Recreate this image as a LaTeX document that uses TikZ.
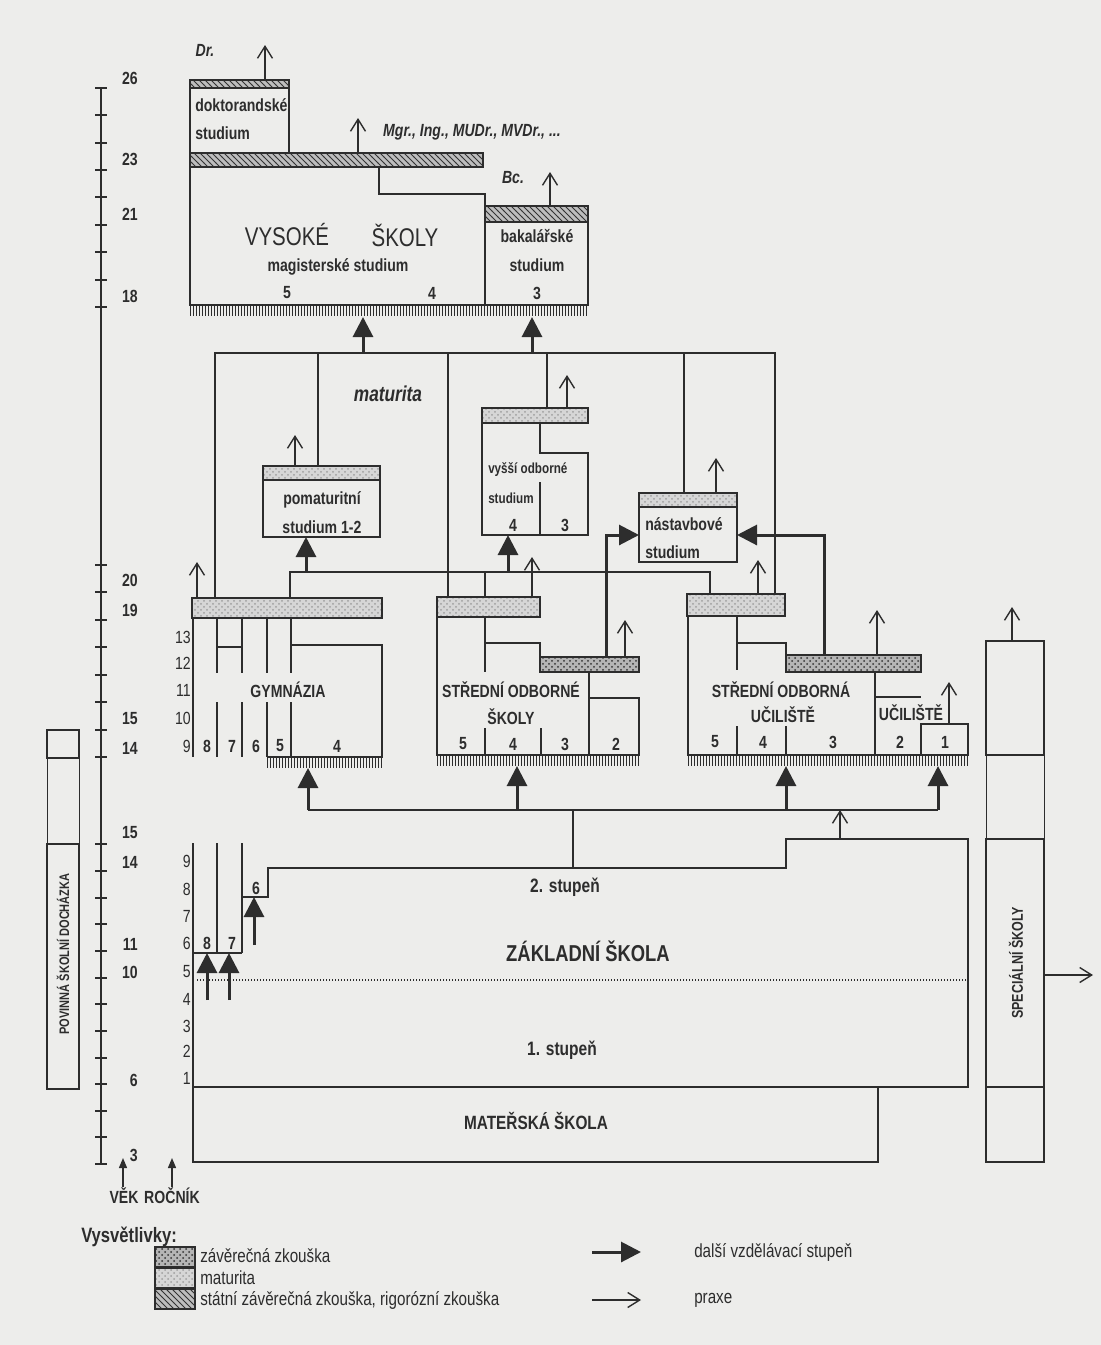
\documentclass[tikz,border=0pt]{standalone}
\usepackage{fontspec}
\setmainfont{Liberation Sans}[FakeStretch=0.8]
\usetikzlibrary{arrows.meta,patterns}
\definecolor{papir}{RGB}{237,237,235}
\definecolor{cara}{RGB}{45,45,45}

\begin{document}
\begin{tikzpicture}[
    x=0.5pt, y=-0.5pt, color=cara, line width=1.25pt,
    tenka/.style={line width=0.5pt},
    praxe/.style={line width=0.7pt, -{Straight Barb[length=6pt,width=7.5pt]}},
    dalsi/.style={line width=1.5pt, -{Triangle[length=10pt,width=10pt]}},
    sipka/.style={line width=0.7pt, -{Triangle[length=5pt,width=4pt]}},
    hreben/.style={line width=5pt, dash pattern=on 0.6pt off 0.9pt},
    tecky/.style={line width=0.9pt, dash pattern=on 0.6pt off 0.9pt},
    zav/.style={draw, preaction={fill=gray!58}, pattern=crosshatch dots, pattern color=black!80},
    mat/.style={draw, preaction={fill=gray!32}, pattern=crosshatch dots, pattern color=gray!75},
    szz/.style={draw, preaction={fill=gray!52}, pattern=north west lines, pattern color=black!80},
    txt/.style={inner sep=0pt, font=\bfseries\fontsize{8.8}{10}\selectfont},
    kurziva/.style={inner sep=0pt, font=\bfseries\itshape\fontsize{8.8}{10}\selectfont},
    velky/.style={inner sep=0pt, font=\fontsize{12.8}{14}\selectfont},
    rocnik/.style={inner sep=0pt, anchor=east, font=\fontsize{8.8}{10}\selectfont},
    vek/.style={txt, anchor=east},
    leg/.style={inner sep=0pt, anchor=west, font=\fontsize{9.5}{11}\selectfont}
]
    \fill[papir] (0,0) rectangle (1101,1345);
    \useasboundingbox (0,0) rectangle (1101,1345);

    % osa veku a rocniky
    \draw (101,88) -- (101,1164);
    \foreach \t in {88,115,143,170,197,225,252,280,307,565,592,620,647,675,702,730,757,
                    844,871,898,924,951,978,1004,1031,1058,1084,1111,1137,1164}
        \draw (95,\t) -- (107,\t);
    \foreach \v/\y in {26/78,23/159,21/214,18/296,20/580,19/610,15/719,14/748,
                       15/833,14/862,11/944,10/972,6/1080,3/1155}
        \node[vek] (v-\y) at (139,\y) {\v};
    \foreach \r/\y in {13/637,12/663,11/690,10/718,9/746,9/861,8/889,7/916,6/943,
                       5/972,4/999,3/1026,2/1051,1/1078}
        \node[rocnik] (r-\y) at (192,\y) {\r};
    \node[txt] (vekpopis) at (124,1196) {VĚK};
    \node[txt] (rocnikpopis) at (172,1196) {ROČNÍK};
    \draw[sipka] (123,1187) -- (123,1158);
    \draw[sipka] (172,1187) -- (172,1158);

    % povinna skolni dochazka
    \draw (47,730) rectangle (79,758);
    \draw[tenka] (47,758) -- (47,844) (79,758) -- (79,844);
    \draw (47,844) rectangle (79,1089);
    \node[inner sep=0pt, rotate=90, font=\bfseries\fontsize{6.9}{8}\selectfont] (povinna) at (63,954) {POVINNÁ ŠKOLNÍ DOCHÁZKA};

    % vysoke skoly
    \draw[szz] (190,80) rectangle (289,88);
    \draw (190,88) -- (190,153) (289,88) -- (289,153);
    \draw[szz] (190,153) rectangle (483,167);
    \draw (190,167) -- (190,305) -- (588,305) -- (588,222);
    \draw (379,167) -- (379,194) -- (485,194) -- (485,305);
    \draw[szz] (485,206) rectangle (588,222);
    \draw[hreben] (190,310.5) -- (588,310.5);
    \draw[praxe] (265,80) -- (265,45);
    \draw[praxe] (358,153) -- (358,118);
    \draw[praxe] (550,206) -- (550,172);
    \node[kurziva] (dr) at (205,50) {Dr.};
    \node[txt, anchor=west] (dokt) at (194,105) {doktorandské};
    \node[txt, anchor=west] (dokt2) at (194,133) {studium};
    \node[kurziva] (mgr) at (472,132) {Mgr., Ing., MUDr., MVDr., ...};
    \node[kurziva] (bc) at (513,178) {Bc.};
    \node[velky] (vysoke) at (287,235) {VYSOKÉ};
    \node[velky] (skoly) at (405,235) {ŠKOLY};
    \node[txt] (mag) at (338,267) {magisterské studium};
    \node[txt] (bak) at (537,236) {bakalářské};
    \node[txt] (bak2) at (537,265) {studium};
    \node[txt] (vs5) at (287,293) {5};
    \node[txt] (vs4) at (432,293) {4};
    \node[txt] (vs3) at (537,293) {3};
    \node[inner sep=0pt, font=\bfseries\itshape\fontsize{10.8}{12}\selectfont] (maturita) at (388,394) {maturita};

    % sberne cary
    \draw (215,598) -- (215,353) -- (775,353) -- (775,594);
    \draw (318,353) -- (318,466);
    \draw (448,353) -- (448,597);
    \draw (547,353) -- (547,408);
    \draw (684,353) -- (684,493);
    \draw[dalsi] (363,353) -- (363,317);
    \draw[dalsi] (532,353) -- (532,317);
    \draw (290,598) -- (290,572) -- (710,572) -- (710,594);
    \draw (485,572) -- (485,597);
    \draw[dalsi] (306,572) -- (306,537);
    \draw[dalsi] (508,572) -- (508,535);

    % pomaturitni studium
    \draw[mat] (263,466) rectangle (380,480);
    \draw (263,480) rectangle (380,537);
    \draw[praxe] (295,466) -- (295,435);
    \node[txt] (pomat) at (322,500) {pomaturitní};
    \node[txt] (pomat2) at (322,527) {studium 1-2};

    % vyssi odborne studium
    \draw[mat] (482,408) rectangle (588,423);
    \draw (482,423) -- (482,535) -- (588,535) -- (588,453) -- (540,453) -- (540,423);
    \draw (540,482) -- (540,535);
    \draw[praxe] (567,408) -- (567,375);
    \node[inner sep=0pt, anchor=west, font=\bfseries\fontsize{7.3}{8}\selectfont] (vos) at (487,470) {vyšší odborné};
    \node[inner sep=0pt, anchor=west, font=\bfseries\fontsize{7.3}{8}\selectfont] (vos2) at (487,498) {studium};
    \node[txt] (vos4) at (513,525) {4};
    \node[txt] (vos3) at (565,525) {3};

    % nastavbove studium
    \draw[mat] (639,493) rectangle (737,507);
    \draw (639,507) rectangle (737,562);
    \draw[praxe] (716,493) -- (716,458);
    \draw[dalsi] (606,657) -- (606,535) -- (639,535);
    \draw[dalsi] (824,655) -- (824,535) -- (737,535);
    \node[txt, anchor=west] (nast) at (644,524) {nástavbové};
    \node[txt, anchor=west] (nast2) at (644,552) {studium};

    % gymnazia
    \draw[mat] (192,598) rectangle (382,618);
    \draw (193,618) -- (193,757);
    \foreach \gx in {217,242,267,291}
        \draw (\gx,618) -- (\gx,673) (\gx,702) -- (\gx,757);
    \draw (217,647) -- (242,647);
    \draw (291,645) -- (382,645) -- (382,757) -- (267,757);
    \draw[hreben] (267,762.5) -- (382,762.5);
    \draw[praxe] (197,598) -- (197,562);
    \node[txt] (gym) at (288,690) {GYMNÁZIA};
    \foreach \c/\gx in {8/207,7/232,6/256,5/280,4/337}
        \node[txt] (g-\c) at (\gx,746) {\c};

    % stredni odborne skoly
    \draw[mat] (437,597) rectangle (540,617);
    \draw (437,617) -- (437,755) -- (639,755) -- (639,698) -- (589,698);
    \draw (485,617) -- (485,672) (485,728) -- (485,755);
    \draw (485,643) -- (540,643) -- (540,657);
    \draw[zav] (540,657) rectangle (639,672);
    \draw (589,672) -- (589,755);
    \draw (541,728) -- (541,755);
    \draw[hreben] (437,760.5) -- (639,760.5);
    \draw[praxe] (532,597) -- (532,557);
    \draw[praxe] (625,657) -- (625,620);
    \node[txt] (sos) at (511,690) {STŘEDNÍ ODBORNÉ};
    \node[txt] (sos2) at (511,717) {ŠKOLY};
    \foreach \c/\gx in {5/463,4/513,3/565,2/616}
        \node[txt] (s-\c) at (\gx,744) {\c};

    % stredni odborna uciliste
    \draw[mat] (687,594) rectangle (785,616);
    \draw (688,616) -- (688,755) -- (968,755) -- (968,724) -- (921,724) -- (921,755);
    \draw (737,616) -- (737,670) (737,726) -- (737,755);
    \draw (737,643) -- (786,643) -- (786,655);
    \draw[zav] (786,655) rectangle (921,672);
    \draw (786,726) -- (786,755);
    \draw (875,672) -- (875,755);
    \draw (875,697) -- (921,697);
    \draw[hreben] (688,760.5) -- (968,760.5);
    \draw[praxe] (758,594) -- (758,560);
    \draw[praxe] (877,655) -- (877,610);
    \draw[praxe] (949,724) -- (949,682);
    \node[txt] (sou) at (781,690) {STŘEDNÍ ODBORNÁ};
    \node[txt] (sou2) at (783,715) {UČILIŠTĚ};
    \node[txt] (ou) at (911,713) {UČILIŠTĚ};
    \foreach \c/\gx in {5/715,4/763,3/833,2/900,1/945}
        \node[txt] (u-\c) at (\gx,742) {\c};

    % zakladni a materska skola
    \draw (193,843) -- (193,1162) -- (878,1162) -- (878,1087);
    \draw (217,843) -- (217,953) (242,843) -- (242,953);
    \draw (193,953) -- (242,953);
    \draw (242,897) -- (268,897) -- (268,868) -- (786,868) -- (786,839) -- (968,839) -- (968,1087) -- (193,1087);
    \draw[tecky] (197,980) -- (966,980);
    \draw (308,810) -- (938,810);
    \draw (573,810) -- (573,868);
    \draw[dalsi] (308,810) -- (308,768);
    \draw[dalsi] (517,810) -- (517,766);
    \draw[dalsi] (786,810) -- (786,766);
    \draw[dalsi] (938,810) -- (938,766);
    \draw[praxe] (840,839) -- (840,810);
    \draw[dalsi] (207,1000) -- (207,953);
    \draw[dalsi] (229,1000) -- (229,953);
    \draw[dalsi] (254,945) -- (254,897);
    \node[txt] (z8) at (207,943) {8};
    \node[txt] (z7) at (232,943) {7};
    \node[txt] (z6) at (256,888) {6};
    \node[inner sep=0pt, font=\bfseries\fontsize{9.7}{11}\selectfont] (st2) at (565,887) {2. stupeň};
    \node[inner sep=0pt, font=\bfseries\fontsize{11.5}{13}\selectfont] (zs) at (588,951) {ZÁKLADNÍ ŠKOLA};
    \node[inner sep=0pt, font=\bfseries\fontsize{9.7}{11}\selectfont] (st1) at (562,1050) {1. stupeň};
    \node[inner sep=0pt, font=\bfseries\fontsize{9.6}{11}\selectfont] (ms) at (536,1121) {MATEŘSKÁ ŠKOLA};

    % specialni skoly
    \draw (986,641) rectangle (1044,755);
    \draw[tenka] (986,755) -- (986,839) (1044,755) -- (1044,839);
    \draw (986,839) rectangle (1044,1162);
    \draw (986,1087) -- (1044,1087);
    \draw[praxe] (1012,641) -- (1012,607);
    \draw[praxe] (1044,975) -- (1093,975);
    \node[inner sep=0pt, rotate=90, font=\bfseries\fontsize{7.8}{9}\selectfont] (spec) at (1016,963) {SPECIÁLNÍ ŠKOLY};

    % vysvetlivky
    \node[inner sep=0pt, anchor=west, font=\bfseries\fontsize{10.4}{12}\selectfont] (vysv) at (80,1237) {Vysvětlivky:};
    \draw[zav, line width=0.6pt] (155,1247) rectangle (195,1267);
    \draw[mat, line width=0.6pt] (155,1268) rectangle (195,1288);
    \draw[szz, line width=0.6pt] (155,1289) rectangle (195,1309);
    \node[leg] (l1) at (199,1256) {závěrečná zkouška};
    \node[leg] (l2) at (199,1278) {maturita};
    \node[leg] (l3) at (199,1300) {státní závěrečná zkouška, rigorózní zkouška};
    \draw[dalsi] (592,1252) -- (641,1252);
    \draw[praxe] (592,1300) -- (641,1300);
    \node[leg] (l4) at (693,1252) {další vzdělávací stupeň};
    \node[leg] (l5) at (693,1300) {praxe};
\end{tikzpicture}
\end{document}
